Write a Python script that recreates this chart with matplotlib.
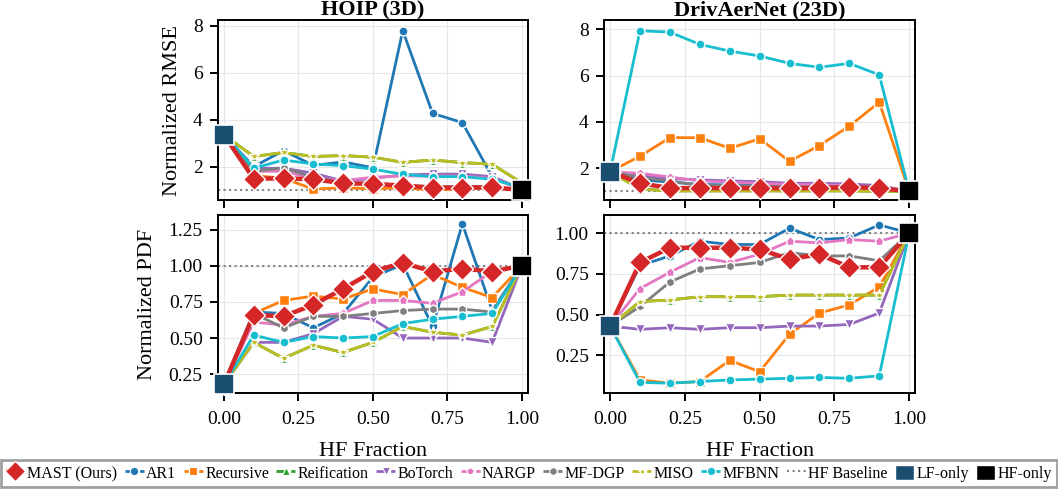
import matplotlib
matplotlib.use("Agg")
import matplotlib.pyplot as plt
from matplotlib.lines import Line2D
from matplotlib.patches import Patch

plt.rcParams['font.family'] = 'serif'
plt.rcParams['font.serif'] = ['Liberation Serif', 'DejaVu Serif']
plt.rcParams['mathtext.fontset'] = 'stix'

hf_frac = [0.0, 0.1, 0.2, 0.3, 0.4, 0.5, 0.6, 0.7, 0.8, 0.9, 1.0]

methods = ["MAST (Ours)", "AR1", "Recursive", "Reification", "BoTorch",
           "NARGP", "MF-DGP", "MISO", "MFBNN"]
colors = ["#d62728", "#1f77b4", "#ff7f0e", "#2ca02c", "#9467bd",
          "#e377c2", "#7f7f7f", "#bcbd22", "#17becf"]
markers = ["D", "o", "s", "^", "v", "p", "h", "*", "o"]

# HOIP (3D), normalized RMSE
hoip_rmse = {
    "MAST (Ours)": [3.35, 1.48, 1.50, 1.46, 1.29, 1.26, 1.19, 1.10, 1.10, 1.12, 1.00],
    "AR1":         [3.35, 2.00, 2.68, 2.05, 2.20, 1.95, 7.79, 4.27, 3.87, 1.57, 1.00],
    "Recursive":   [3.35, 1.62, 1.50, 1.04, 1.10, 1.05, 1.10, 1.00, 1.05, 1.10, 1.00],
    "Reification": [3.35, 2.43, 2.60, 2.43, 2.47, 2.40, 2.18, 2.28, 2.17, 2.10, 1.30],
    "BoTorch":     [3.35, 1.93, 1.93, 1.72, 1.38, 1.50, 1.64, 1.68, 1.68, 1.57, 1.05],
    "NARGP":       [3.35, 1.80, 1.80, 1.50, 1.40, 1.55, 1.60, 1.60, 1.60, 1.50, 1.05],
    "MF-DGP":      [3.35, 1.80, 1.95, 1.55, 1.30, 1.30, 1.20, 1.15, 1.15, 1.15, 1.00],
    "MISO":        [3.35, 2.43, 2.60, 2.43, 2.47, 2.40, 2.18, 2.28, 2.17, 2.10, 1.30],
    "MFBNN":       [3.35, 1.93, 2.28, 2.11, 2.04, 1.89, 1.67, 1.57, 1.57, 1.46, 1.10],
}

# DrivAerNet (23D), normalized RMSE
driv_rmse = {
    "MAST (Ours)": [1.85, 1.35, 1.14, 1.14, 1.14, 1.14, 1.14, 1.14, 1.18, 1.14, 1.00],
    "AR1":         [1.85, 1.50, 1.40, 1.30, 1.28, 1.28, 1.22, 1.25, 1.25, 1.18, 1.00],
    "Recursive":   [1.85, 2.52, 3.32, 3.32, 2.86, 3.27, 2.30, 2.98, 3.82, 4.85, 1.00],
    "Reification": [1.85, 1.10, 1.02, 1.02, 1.02, 1.02, 1.02, 1.02, 1.02, 1.00, 1.00],
    "BoTorch":     [1.85, 1.70, 1.55, 1.50, 1.45, 1.42, 1.35, 1.35, 1.32, 1.25, 1.00],
    "NARGP":       [1.85, 1.78, 1.62, 1.45, 1.40, 1.35, 1.30, 1.28, 1.25, 1.15, 1.00],
    "MF-DGP":      [1.85, 1.60, 1.45, 1.25, 1.25, 1.22, 1.20, 1.20, 1.20, 1.15, 1.00],
    "MISO":        [1.85, 1.10, 1.02, 1.02, 1.02, 1.02, 1.02, 1.02, 1.02, 1.00, 1.00],
    "MFBNN":       [1.85, 7.94, 7.88, 7.35, 7.06, 6.85, 6.53, 6.36, 6.53, 6.03, 1.00],
}

# HOIP (3D), normalized PDF
hoip_pdf = {
    "MAST (Ours)": [0.18, 0.66, 0.65, 0.73, 0.84, 0.96, 1.02, 0.96, 0.98, 0.96, 1.00],
    "AR1":         [0.18, 0.68, 0.67, 0.57, 0.67, 0.92, 1.01, 0.58, 1.29, 0.69, 1.00],
    "Recursive":   [0.18, 0.67, 0.76, 0.79, 0.77, 0.84, 0.80, 0.94, 0.85, 0.78, 1.00],
    "Reification": [0.18, 0.47, 0.36, 0.45, 0.40, 0.47, 0.58, 0.54, 0.52, 0.58, 1.00],
    "BoTorch":     [0.18, 0.47, 0.47, 0.53, 0.65, 0.63, 0.50, 0.50, 0.50, 0.47, 1.00],
    "NARGP":       [0.18, 0.61, 0.59, 0.65, 0.67, 0.76, 0.76, 0.74, 0.82, 0.96, 1.00],
    "MF-DGP":      [0.18, 0.67, 0.57, 0.65, 0.65, 0.67, 0.69, 0.70, 0.70, 0.68, 1.00],
    "MISO":        [0.18, 0.47, 0.36, 0.45, 0.40, 0.47, 0.58, 0.54, 0.52, 0.58, 1.00],
    "MFBNN":       [0.18, 0.52, 0.47, 0.51, 0.50, 0.51, 0.60, 0.63, 0.65, 0.67, 1.00],
}

# DrivAerNet (23D), normalized PDF
driv_pdf = {
    "MAST (Ours)": [0.43, 0.82, 0.91, 0.91, 0.91, 0.90, 0.84, 0.87, 0.79, 0.79, 1.00],
    "AR1":         [0.43, 0.80, 0.86, 0.95, 0.93, 0.93, 1.03, 0.96, 0.97, 1.05, 1.00],
    "Recursive":   [0.43, 0.10, 0.08, 0.09, 0.22, 0.15, 0.38, 0.51, 0.56, 0.67, 1.00],
    "Reification": [0.43, 0.58, 0.59, 0.61, 0.61, 0.61, 0.62, 0.62, 0.62, 0.62, 1.00],
    "BoTorch":     [0.43, 0.41, 0.42, 0.41, 0.42, 0.42, 0.43, 0.43, 0.44, 0.51, 1.00],
    "NARGP":       [0.43, 0.66, 0.76, 0.85, 0.82, 0.87, 0.95, 0.94, 0.96, 0.95, 1.00],
    "MF-DGP":      [0.43, 0.55, 0.70, 0.78, 0.80, 0.82, 0.88, 0.86, 0.86, 0.83, 1.00],
    "MISO":        [0.43, 0.58, 0.59, 0.61, 0.61, 0.61, 0.62, 0.62, 0.62, 0.62, 1.00],
    "MFBNN":       [0.43, 0.085, 0.08, 0.09, 0.10, 0.105, 0.11, 0.115, 0.11, 0.125, 1.00],
}

lf_only = {"hoip_rmse": 3.35, "driv_rmse": 1.85, "hoip_pdf": 0.18, "driv_pdf": 0.43}
hf_only = 1.0
hf_baseline = 1.0
lf_color = "#1b4f72"

fig = plt.figure(figsize=(10.58, 4.9), dpi=100)
ax_hr = fig.add_axes([0.206, 0.592, 0.293, 0.367])
ax_dr = fig.add_axes([0.571, 0.592, 0.294, 0.367])
ax_hp = fig.add_axes([0.206, 0.198, 0.293, 0.363])
ax_dp = fig.add_axes([0.571, 0.198, 0.294, 0.363])

panels = [
    (ax_hr, hoip_rmse, "hoip_rmse", (0.58, 8.24), [2, 4, 6, 8], "%d"),
    (ax_dr, driv_rmse, "driv_rmse", (0.63, 8.4), [2, 4, 6, 8], "%d"),
    (ax_hp, hoip_pdf, "hoip_pdf", (0.12, 1.35), [0.25, 0.5, 0.75, 1.0, 1.25], "%.2f"),
    (ax_dp, driv_pdf, "driv_pdf", (0.02, 1.11), [0.25, 0.5, 0.75, 1.0], "%.2f"),
]

for ax, data, key, ylim, yticks, fmt in panels:
    ax.axhline(hf_baseline, color="#808080", ls=":", lw=1.5, zorder=1)
    # draw MAST last so it sits above the baselines
    order = list(range(1, len(methods))) + [0]
    for i in order:
        name = methods[i]
        big = name == "MAST (Ours)"
        ax.plot(hf_frac, data[name], color=colors[i], marker=markers[i],
                lw=3.2 if big else 2.0, ms=11 if big else (8 if markers[i] == "*" else 6.5),
                mec="white", mew=1.0, zorder=5 if big else 3, clip_on=False)
    ax.plot([0.0], [lf_only[key]], marker="s", ms=14, color=lf_color,
            mec="white", mew=1.2, ls="none", zorder=10, clip_on=False)
    ax.plot([1.0], [hf_only], marker="s", ms=14, color="black",
            mec="white", mew=1.2, ls="none", zorder=10, clip_on=False)

    ax.set_xlim(-0.02, 1.02)
    ax.set_ylim(*ylim)
    ax.set_xticks([0, 0.25, 0.5, 0.75, 1.0])
    ax.set_yticks(yticks)
    ax.set_yticklabels([fmt % t for t in yticks])
    ax.grid(True, color="#e6e6e6", lw=0.8)
    ax.set_axisbelow(True)
    for s in ax.spines.values():
        s.set_linewidth(1.4)
        s.set_color("black")
    ax.tick_params(direction="out", length=6, width=1.4, labelsize=14, pad=5)
    ax.tick_params(axis="x", pad=7)

for ax in (ax_hr, ax_dr):
    ax.set_xticklabels([])
for ax in (ax_hp, ax_dp):
    ax.set_xticklabels(["0.00", "0.25", "0.50", "0.75", "1.00"])
    ax.set_xlabel("HF Fraction", fontsize=16, labelpad=10)

ax_hr.set_title("HOIP (3D)", fontsize=16, fontweight="bold", pad=2)
ax_dr.set_title("DrivAerNet (23D)", fontsize=16, fontweight="bold", pad=2)
ax_hr.set_ylabel("Normalized RMSE", fontsize=16, labelpad=8)
ax_hp.set_ylabel("Normalized PDF", fontsize=16, labelpad=8)

handles = []
for i, name in enumerate(methods):
    big = name == "MAST (Ours)"
    handles.append(Line2D([], [], color=colors[i], marker=markers[i],
                          lw=3.0 if big else 2.0, ls="--",
                          ms=10 if big else 6, mec="white", mew=0.8, label=name))
handles.append(Line2D([], [], color="#808080", ls=":", lw=1.5, label="HF Baseline"))
handles.append(Patch(facecolor=lf_color, edgecolor="white", label="LF-only"))
handles.append(Patch(facecolor="black", edgecolor="white", label="HF-only"))

leg = fig.legend(handles=handles, loc="lower center", bbox_to_anchor=(0.5, 0.0),
                 ncol=12, fontsize=11.5, frameon=True, fancybox=False,
                 handlelength=1.2, handletextpad=0.15, columnspacing=0.45,
                 borderpad=0.3, borderaxespad=0.2, handleheight=1.1)
leg.get_frame().set_edgecolor("#888888")
leg.get_frame().set_linewidth(2.0)

fig.savefig("out.png", dpi=100)
